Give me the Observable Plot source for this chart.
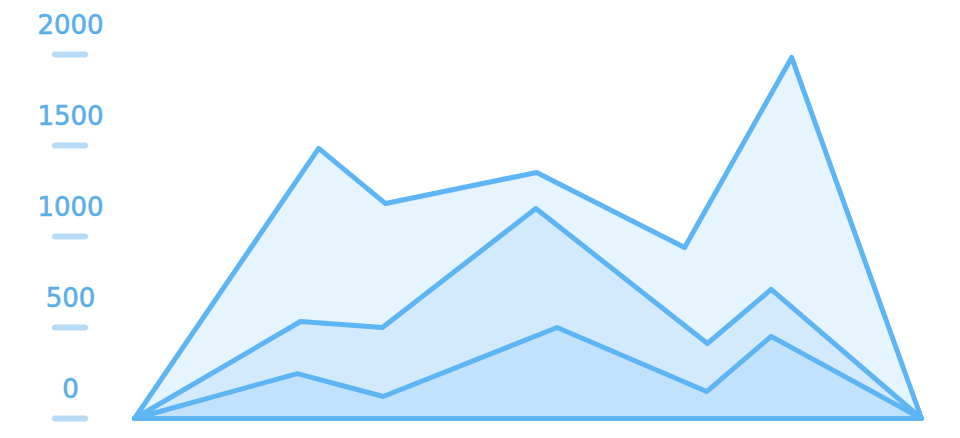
<!DOCTYPE html>
<html>
<head>
<meta charset="utf-8">
<script src="https://cdn.jsdelivr.net/npm/d3@7"></script>
<script src="https://cdn.jsdelivr.net/npm/@observablehq/plot@0.6"></script>
<style>
  html, body { margin: 0; padding: 0; background: #fff; }
  #chart svg { display: block; }
</style>
</head>
<body>
<div id="chart"></div>
<script>
// Position along the horizontal axis (0–100) and values for each series
const outerX = [0, 23.4, 31.9, 51.1, 69.9, 83.5, 100];
const outerY = [0, 1484, 1181, 1352, 940, 1984, 0];

const middleX = [0, 21.1, 31.5, 51.0, 72.8, 80.9, 100];
const middleY = [0, 533, 500, 1154, 412, 709, 0];

const innerX = [0, 20.7, 31.6, 53.7, 72.7, 80.9, 100];
const innerY = [0, 247, 121, 500, 148, 451, 0];

const yTicks = [0, 500, 1000, 1500, 2000];

const series = [
  {name: "outer", xs: outerX, ys: outerY, fill: "#E5F4FE"},
  {name: "middle", xs: middleX, ys: middleY, fill: "#D3EAFC"},
  {name: "inner", xs: innerX, ys: innerY, fill: "#C2E2FB"}
];

const W = 960, H = 438, ML = 134, MR = 39, MT = 54, MB = 20;
const unitsPerPx = 100 / (W - ML - MR);

const stroke = "#5DB5F4";
const marks = [];
for (const s of series) {
  const data = s.xs.map((x, i) => ({x, y: s.ys[i]}));
  marks.push(Plot.areaY(data, {x: "x", y: "y", fill: s.fill}));
  marks.push(Plot.line(data.concat([data[0]]), {x: "x", y: "y", stroke, strokeWidth: 5, strokeLinejoin: "round", strokeLinecap: "round"}));
}

// tick bars to the left of the plot (55px..85px from the left edge of the page)
marks.push(Plot.ruleY(yTicks, {y: d => d, x1: (55 - ML) * unitsPerPx, x2: (85 - ML) * unitsPerPx, stroke: "#B7DBF6", strokeWidth: 6, strokeLinecap: "round"}));
marks.push(Plot.text(yTicks, {y: d => d, text: d => String(d), frameAnchor: "left", dx: -64, dy: -29, textAnchor: "middle", fill: "#5AAEE8", stroke: "#5AAEE8", strokeWidth: 0.6, fontSize: 26, fontFamily: "DejaVu Sans"}));

const chart = Plot.plot({
  width: W,
  height: H,
  marginLeft: ML,
  marginRight: MR,
  marginTop: MT,
  marginBottom: MB,
  x: {domain: [0, 100], axis: null},
  y: {domain: [0, 2000], axis: null},
  style: {background: "#fff", overflow: "visible"},
  marks
});
document.getElementById("chart").appendChild(chart);
</script>
</body>
</html>
